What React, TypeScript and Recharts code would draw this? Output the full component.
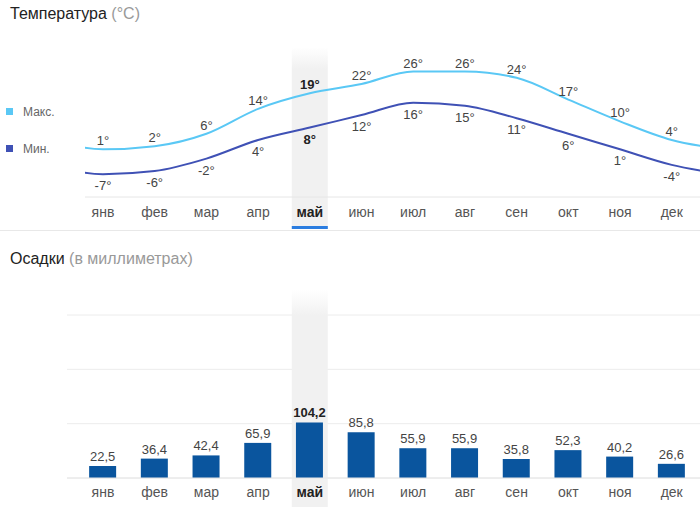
import React from 'react';
import {
  LineChart,
  Line,
  XAxis,
  YAxis,
  ReferenceArea,
  LabelList,
  BarChart,
  Bar,
  CartesianGrid,
} from 'recharts';

const months = ['янв', 'фев', 'мар', 'апр', 'май', 'июн', 'июл', 'авг', 'сен', 'окт', 'ноя', 'дек'];
const maxTemps = [1, 2, 6, 14, 19, 22, 26, 26, 24, 17, 10, 4];
const minTemps = [-7, -6, -2, 4, 8, 12, 16, 15, 11, 6, 1, -4];
const precipitation = [22.5, 36.4, 42.4, 65.9, 104.2, 85.8, 55.9, 55.9, 35.8, 52.3, 40.2, 26.6];
const highlightMonth = 4;
const rainTicks = [0, 102, 204, 306];

const monthTicks = months.map((_, i) => i);
// wrap-around points so the curves continue past the first/last month
const tempData = [
  { i: -1, max: maxTemps[11], min: minTemps[11] },
  ...months.map((_, i) => ({ i, max: maxTemps[i], min: minTemps[i] })),
  { i: 12, max: maxTemps[0], min: minTemps[0] },
];
const rainData = months.map((_, i) => ({ i, rain: precipitation[i] }));

const FONT = '"Liberation Sans", Arial, Helvetica, sans-serif';
const MAX_COLOR = '#5ac8f5';
const MIN_COLOR = '#3f51b5';
const BAR_COLOR = '#0a559e';
const BAND = '#f1f1f1';

function MonthTick(props: any) {
  const { x, y, payload, underline, dy } = props;
  const i = payload.value;
  const hl = i === highlightMonth;
  return (
    <g>
      <text
        x={x}
        y={y + dy}
        textAnchor="middle"
        fontSize={14}
        fontWeight={hl ? 700 : 400}
        fill={hl ? '#222' : '#555'}
      >
        {months[i]}
      </text>
      {hl && underline ? <rect x={x - 18} y={y + 21} width={36} height={3} fill="#2b7de0" /> : null}
    </g>
  );
}

const makeTempLabel = (above: boolean) => (props: any) => {
  const { x, y, value, index } = props;
  if (index === 0 || index === tempData.length - 1) return null;
  const hl = index - 1 === highlightMonth;
  return (
    <text
      x={x}
      y={above ? y - 4 : y + 16}
      textAnchor="middle"
      fontSize={13}
      fontWeight={hl ? 700 : 400}
      fill={hl ? '#222' : '#444'}
    >
      {value}°
    </text>
  );
};

const RainLabel = (props: any) => {
  const { x, y, width, value, index } = props;
  const hl = index === highlightMonth;
  return (
    <text
      x={x + width / 2}
      y={y - 5}
      textAnchor="middle"
      fontSize={13}
      fontWeight={hl ? 700 : 400}
      fill={hl ? '#222' : '#444'}
    >
      {Number(value).toFixed(1).replace('.', ',')}
    </text>
  );
};

export default function App() {
  return (
    <div
      style={{
        position: 'absolute',
        left: 0,
        top: 0,
        width: 700,
        height: 507,
        background: '#fff',
        fontFamily: FONT,
        overflow: 'hidden',
      }}
    >
      {/* Temperature */}
      <div style={{ position: 'absolute', left: 10, top: 5.5, fontSize: 16, lineHeight: '16px', color: '#222', whiteSpace: 'nowrap' }}>
        Температура <span style={{ color: '#999' }}>(°C)</span>
      </div>
      <div style={{ position: 'absolute', left: 6, top: 108, width: 7, height: 7, background: MAX_COLOR }} />
      <div style={{ position: 'absolute', left: 23, top: 106, fontSize: 12, lineHeight: '12px', color: '#666' }}>Макс.</div>
      <div style={{ position: 'absolute', left: 6, top: 145, width: 7, height: 7, background: MIN_COLOR }} />
      <div style={{ position: 'absolute', left: 23, top: 143, fontSize: 12, lineHeight: '12px', color: '#666' }}>Мин.</div>

      <div style={{ position: 'absolute', left: 0, top: 0 }}>
        <LineChart width={700} height={232} data={tempData} margin={{ top: 47, right: 0, bottom: 0, left: 85 }}>
          <defs>
            <linearGradient id="hlTop" x1="0" y1="0" x2="0" y2="1">
              <stop offset="0" stopColor={BAND} stopOpacity={0} />
              <stop offset="0.12" stopColor={BAND} stopOpacity={1} />
              <stop offset="1" stopColor={BAND} stopOpacity={1} />
            </linearGradient>
          </defs>
          <XAxis
            type="number"
            dataKey="i"
            domain={[-0.348, 11.547]}
            allowDataOverflow
            ticks={monthTicks}
            interval={0}
            height={35}
            axisLine={{ stroke: '#e6e6e6' }}
            tickLine={false}
            tick={<MonthTick underline dy={12} />}
          />
          <YAxis hide width={0} domain={[-14.34, 33.9]} allowDataOverflow />
          <ReferenceArea
            x1={highlightMonth - 0.348}
            x2={highlightMonth + 0.348}
            y1={33.9}
            y2={-24.6}
            ifOverflow="visible"
            fill="url(#hlTop)"
            fillOpacity={1}
            stroke="none"
          />
          <Line dataKey="max" type="monotone" stroke={MAX_COLOR} strokeWidth={2} dot={false} activeDot={false} isAnimationActive={false}>
            <LabelList dataKey="max" content={makeTempLabel(true)} />
          </Line>
          <Line dataKey="min" type="monotone" stroke={MIN_COLOR} strokeWidth={2} dot={false} activeDot={false} isAnimationActive={false}>
            <LabelList dataKey="min" content={makeTempLabel(false)} />
          </Line>
        </LineChart>
      </div>

      <div style={{ position: 'absolute', left: 0, top: 230, width: 700, height: 1, background: '#e8e8e8' }} />

      {/* Precipitation */}
      <div style={{ position: 'absolute', left: 10, top: 250.5, fontSize: 16, lineHeight: '16px', color: '#222', whiteSpace: 'nowrap' }}>
        Осадки <span style={{ color: '#999' }}>(в миллиметрах)</span>
      </div>

      <div style={{ position: 'absolute', left: 0, top: 232 }}>
        <BarChart width={700} height={275} data={rainData} margin={{ top: 83, right: 0, bottom: 0, left: 67 }}>
          <defs>
            <linearGradient id="hlBottom" x1="0" y1="0" x2="0" y2="1">
              <stop offset="0" stopColor={BAND} stopOpacity={0} />
              <stop offset="0.12" stopColor={BAND} stopOpacity={1} />
              <stop offset="1" stopColor={BAND} stopOpacity={1} />
            </linearGradient>
          </defs>
          <CartesianGrid vertical={false} stroke="#ececec" />
          <XAxis
            type="number"
            dataKey="i"
            domain={[-0.696, 11.547]}
            allowDataOverflow
            ticks={monthTicks}
            interval={0}
            height={29}
            axisLine={{ stroke: '#e6e6e6' }}
            tickLine={false}
            tick={<MonthTick dy={11} />}
          />
          <YAxis hide width={0} domain={[0, 306]} ticks={rainTicks} allowDataOverflow />
          <ReferenceArea
            x1={highlightMonth - 0.348}
            x2={highlightMonth + 0.348}
            y1={352.9}
            y2={-54.3}
            ifOverflow="visible"
            fill="url(#hlBottom)"
            fillOpacity={1}
            stroke="none"
          />
          <Bar dataKey="rain" fill={BAR_COLOR} barSize={27} isAnimationActive={false}>
            <LabelList dataKey="rain" content={RainLabel} />
          </Bar>
        </BarChart>
      </div>
    </div>
  );
}
